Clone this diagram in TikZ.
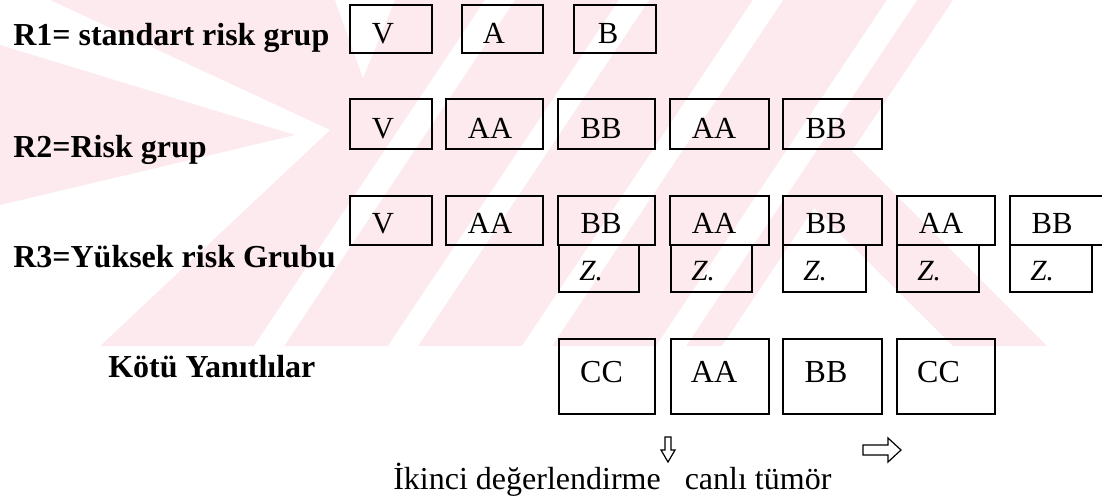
\documentclass[tikz,border=0pt]{standalone}
\usepackage{fontspec}
\setmainfont{Liberation Serif}
\definecolor{wm}{RGB}{252,234,238}
\tikzset{
  px/.style={x=0.75pt,y=-0.75pt},
  box/.style 2 args={draw=black,line width=1.4pt,inner sep=0pt,minimum width=0.75*#1,minimum height=0.75*#2},
  lbl/.style={font=\fontsize{24}{28}\selectfont\bfseries,anchor=base west,inner sep=0pt},
  btxt/.style={font=\fontsize{23}{27}\selectfont,anchor=base,inner sep=0pt},
  ctxt/.style={font=\fontsize{24}{28}\selectfont,anchor=base,inner sep=0pt},
  ztxt/.style={font=\fontsize{22}{26}\selectfont\itshape,anchor=base west,inner sep=0pt},
  btmtxt/.style={font=\fontsize{24}{28}\selectfont,anchor=base west,inner sep=0pt},
  blockarrow/.style={draw=black,line width=0.9pt,fill=white},
  gap/.style={fill=white}
}
\begin{document}
\begin{tikzpicture}[px]
\useasboundingbox (0,0) rectangle (1102,497);
% watermark
\begin{scope}
\clip (0,0) rectangle (1102,346);
\fill[wm] (50,0) -- (953,0) -- (852,151) -- (1047,346) -- (953,346) -- (814,208) -- (722,346) -- (100,346) -- (0,250) -- (0,0) -- cycle;
\fill[gap] (0,0) -- (50,0) -- (330,130) -- (100,346) -- (0,346) -- cycle;
\fill[wm] (0,45) -- (295,135) -- (0,205) -- cycle;
\fill[gap] (335,0) -- (395,0) -- (363,78) -- cycle;
\begin{scope}
\clip (50,0) -- (953,0) -- (852,151) -- (1047,346) -- (953,346) -- (814,208) -- (722,346) -- (100,346) -- cycle;
\fill[gap] (485,0) -- (515,0) -- (284,346) -- (254,346) -- cycle;
\fill[gap] (619,0) -- (649,0) -- (418,346) -- (388,346) -- cycle;
\fill[gap] (753,0) -- (783,0) -- (552,346) -- (522,346) -- cycle;
\fill[gap] (887,0) -- (917,0) -- (686,346) -- (656,346) -- cycle;
\end{scope}
\end{scope}
% labels
\node[lbl] (l1) at (13,45) {R1= standart risk grup};
\node[lbl] (l2) at (13,157) {R2=Risk grup};
\node[lbl] (l3) at (13,267) {R3=Yüksek risk Grubu};
\node[lbl] (l4) at (108,377) {Kötü Yanıtlılar};
% row 1
\node[box={82}{48}] (a1) at (391,29) {};
\node[box={81}{48}] (a2) at (502.5,29) {};
\node[box={82}{48}] (a3) at (615,29) {};
\node[btxt] (ta1) at (383,43) {V};
\node[btxt] (ta2) at (494,43) {A};
\node[btxt] (ta3) at (608,43) {B};
% row 2
\node[box={82}{50}] (b1) at (391,124) {};
\node[box={97}{50}] (b2) at (494.5,124) {};
\node[box={97}{50}] (b3) at (606.5,124) {};
\node[box={99}{50}] (b4) at (719.5,124) {};
\node[box={99}{50}] (b5) at (832.5,124) {};
\node[btxt] (tb1) at (383,138) {V};
\node[btxt] (tb2) at (490,138) {AA};
\node[btxt] (tb3) at (601,138) {BB};
\node[btxt] (tb4) at (714,138) {AA};
\node[btxt] (tb5) at (826,138) {BB};
% row 3
\node[box={82}{49}] (c1) at (391,220.5) {};
\node[box={97}{49}] (c2) at (494.5,220.5) {};
\node[box={97}{49}] (c3) at (606.5,220.5) {};
\node[box={99}{49}] (c4) at (719.5,220.5) {};
\node[box={99}{49}] (c5) at (832.5,220.5) {};
\node[box={98}{49}] (c6) at (946,220.5) {};
\node[box={98}{49}] (c7) at (1059,220.5) {};
\node[btxt] (tc1) at (383,233) {V};
\node[btxt] (tc2) at (490,233) {AA};
\node[btxt] (tc3) at (601,233) {BB};
\node[btxt] (tc4) at (714,233) {AA};
\node[btxt] (tc5) at (826,233) {BB};
\node[btxt] (tc6) at (941,233) {AA};
\node[btxt] (tc7) at (1052,233) {BB};
% Z boxes
\node[box={80}{47}] (z3) at (599,268.5) {};
\node[box={81}{47}] (z4) at (711.5,268.5) {};
\node[box={83}{47}] (z5) at (824.5,268.5) {};
\node[box={82}{47}] (z6) at (938,268.5) {};
\node[box={82}{47}] (z7) at (1051,268.5) {};
\node[ztxt] (tz3) at (579,280) {Z.};
\node[ztxt] (tz4) at (691,280) {Z.};
\node[ztxt] (tz5) at (803,280) {Z.};
\node[ztxt] (tz6) at (917,280) {Z.};
\node[ztxt] (tz7) at (1030,280) {Z.};
% row 4
\node[box={96}{75}] (d1) at (607,376.5) {};
\node[box={98}{75}] (d2) at (720,376.5) {};
\node[box={99}{75}] (d3) at (832.5,376.5) {};
\node[box={98}{75}] (d4) at (946,376.5) {};
\node[ctxt] (td1) at (601.5,382) {CC};
\node[ctxt] (td2) at (714,382) {AA};
\node[ctxt] (td3) at (826,382) {BB};
\node[ctxt] (td4) at (938.5,382) {CC};
% block arrows
\draw[blockarrow] (665,437) -- (671,437) -- (671,450) -- (675,450) -- (668,462) -- (661,450) -- (665,450) -- cycle;
\draw[blockarrow] (863,445) -- (888,445) -- (888,438) -- (901,450) -- (888,462) -- (888,455) -- (863,455) -- cycle;
% bottom text
\node[btmtxt] (bt) at (393,489) {İkinci değerlendirme\hspace{12pt} canlı tümör};
\end{tikzpicture}
\end{document}
